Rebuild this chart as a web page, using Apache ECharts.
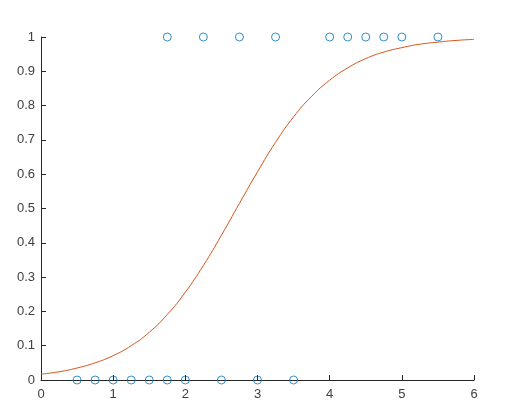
<!DOCTYPE html>
<html>
<head>
<meta charset="utf-8">
<script src="https://cdn.jsdelivr.net/npm/echarts@6/dist/echarts.min.js"></script>
<style>html,body{margin:0;padding:0;background:#fff;}#c{width:521px;height:419px;}</style>
</head>
<body>
<div id="c"></div>
<script>
const hours = [0.5, 0.75, 1.0, 1.25, 1.5, 1.75, 1.75, 2.0, 2.25, 2.5, 2.75, 3.0, 3.25, 3.5, 4.0, 4.25, 4.5, 4.75, 5.0, 5.5];
const passed = [0, 0, 0, 0, 0, 0, 1, 0, 1, 0, 1, 0, 1, 0, 1, 1, 1, 1, 1, 1];
const curveX = [0, 0.25, 0.5, 0.75, 1, 1.25, 1.5, 1.75, 2, 2.25, 2.5, 2.75, 3, 3.25, 3.5, 3.75, 4, 4.25, 4.5, 4.75, 5, 5.25, 5.5, 5.75, 6];
const curveY = [0.017, 0.024, 0.035, 0.050, 0.071, 0.100, 0.139, 0.191, 0.256, 0.334, 0.422, 0.515, 0.607, 0.693, 0.767, 0.827, 0.874, 0.910, 0.937, 0.956, 0.969, 0.979, 0.985, 0.990, 0.993];
const xTicks = [0, 1, 2, 3, 4, 5, 6];
const yTicks = [0, 0.1, 0.2, 0.3, 0.4, 0.5, 0.6, 0.7, 0.8, 0.9, 1];

const chart = echarts.init(document.getElementById('c'), null, {renderer: 'canvas'});
const axisCommon = {
  type: 'value',
  axisLine: {show: true, lineStyle: {color: '#262626', width: 1}},
  axisTick: {show: true, inside: true, length: 5, lineStyle: {color: '#262626'}},
  splitLine: {show: false},
  axisLabel: {color: '#404040', fontFamily: 'Liberation Sans, Arial, sans-serif', fontSize: 13}
};
chart.setOption({
  animation: false,
  backgroundColor: '#fff',
  grid: {left: 41, right: 47, top: 37, bottom: 39, containLabel: false},
  xAxis: Object.assign({}, axisCommon, {min: xTicks[0], max: xTicks[xTicks.length-1], interval: 1,
    axisLabel: Object.assign({}, axisCommon.axisLabel, {margin: 8})}),
  yAxis: Object.assign({}, axisCommon, {min: yTicks[0], max: yTicks[yTicks.length-1], interval: 0.1,
    axisLabel: Object.assign({}, axisCommon.axisLabel, {margin: 6, formatter: v => String(+v.toFixed(1))})}),
  series: [
    {
      type: 'line',
      data: curveX.map((x, i) => [x, curveY[i]]),
      smooth: true,
      showSymbol: false,
      lineStyle: {color: '#D95319', width: 1},
      z: 2
    },
    {
      type: 'scatter',
      data: hours.map((h, i) => [h, passed[i]]),
      symbol: 'circle',
      symbolSize: 8,
      clip: false,
      itemStyle: {color: 'rgba(0,0,0,0)', borderColor: '#0072BD', borderWidth: 1},
      z: 3
    }
  ]
});
</script>
</body>
</html>
